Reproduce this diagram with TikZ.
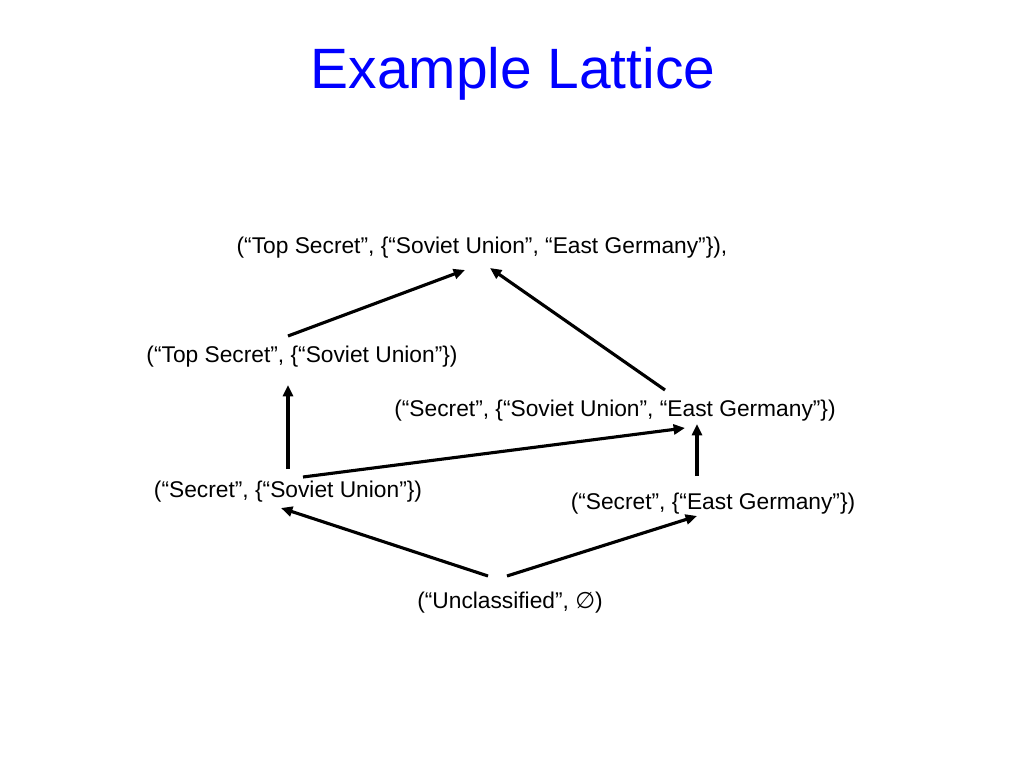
\documentclass[tikz,border=0pt]{standalone}
\usepackage{fontspec}
\setmainfont{Liberation Sans}
\newfontfamily\symfont{DejaVu Sans}
\usetikzlibrary{arrows.meta}
\begin{document}
\begin{tikzpicture}[x=0.703125pt,y=-0.703125pt,
  lbl/.style={inner sep=0pt,font=\fontsize{16}{19}\selectfont},
  edge/.style={line width=2.2pt,-{Triangle[length=8pt,width=7pt]}}]
\useasboundingbox (0,0) rectangle (1024,768);
\node[inner sep=0pt,text=blue,font=\fontsize{40}{46}\selectfont] (title) at (513,74) {Example Lattice};
\node[lbl] (top) at (482,248) {(“Top Secret”, \{“Soviet Union”, “East Germany”\}),};
\node[lbl] (tssu) at (302,357) {(“Top Secret”, \{“Soviet Union”\})};
\node[lbl] (ssueg) at (615,411) {(“Secret”, \{“Soviet Union”, “East Germany”\})};
\node[lbl] (ssu) at (288,492) {(“Secret”, \{“Soviet Union”\})};
\node[lbl] (seg) at (713,504) {(“Secret”, \{“East Germany”\})};
\node[lbl] (unc) at (510,603) {(“Unclassified”, {\symfont ∅})};
\draw[edge] ([shift={(-22,-27)}]unc.center) -- ([shift={(-7,16)}]ssu.center);
\draw[edge] ([shift={(-3,-27)}]unc.center) -- ([shift={(-16,12)}]seg.center);
\draw[edge] ([shift={(0,-23)}]ssu.center) -- ([shift={(-14,28)}]tssu.center);
\draw[edge] ([shift={(15,-15)}]ssu.center) -- ([shift={(70,17)}]ssueg.center);
\draw[edge] ([shift={(-16,-28)}]seg.center) -- ([shift={(82,13)}]ssueg.center);
\draw[edge] ([shift={(-14,-21)}]tssu.center) -- ([shift={(-17,22)}]top.center);
\draw[edge] ([shift={(50,-21)}]ssueg.center) -- ([shift={(8,20)}]top.center);
\end{tikzpicture}
\end{document}
